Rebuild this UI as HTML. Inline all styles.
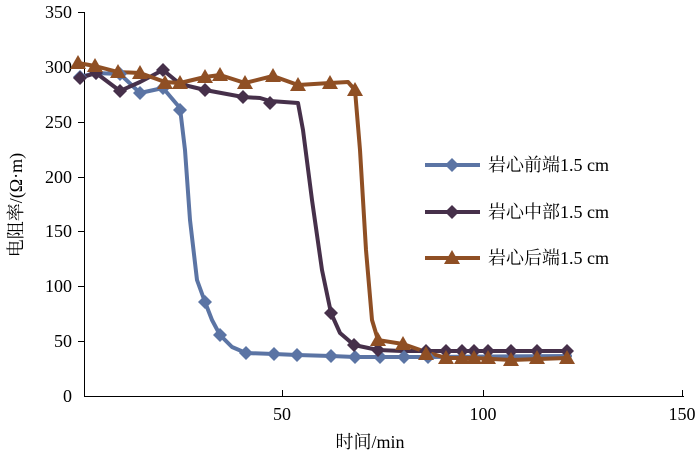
<!DOCTYPE html>
<html><head><meta charset="utf-8"><style>body{margin:0;background:#fff}svg text{font-family:"Liberation Serif","Noto Serif CJK SC",serif;fill:#000}</style></head>
<body>
<svg width="700" height="458" viewBox="0 0 700 458" xmlns="http://www.w3.org/2000/svg">
<defs>
<path id="dm" d="M0,-7 L7,0 L0,7 L-7,0Z"/>
<path id="tr" d="M0,-8 L8,6 L-8,6Z"/>
</defs>
<g stroke="#000" stroke-width="1" fill="none">
<line x1="84.5" y1="12" x2="84.5" y2="396"/>
<line x1="84" y1="396.5" x2="684" y2="396.5"/>
<line x1="78" y1="12.5" x2="84" y2="12.5"/><line x1="78" y1="67.5" x2="84" y2="67.5"/>
<line x1="78" y1="122.5" x2="84" y2="122.5"/><line x1="78" y1="177.5" x2="84" y2="177.5"/>
<line x1="78" y1="231.5" x2="84" y2="231.5"/><line x1="78" y1="286.5" x2="84" y2="286.5"/>
<line x1="78" y1="341.5" x2="84" y2="341.5"/>
<line x1="282.5" y1="390" x2="282.5" y2="396"/><line x1="483.5" y1="390" x2="483.5" y2="396"/><line x1="682.5" y1="390" x2="682.5" y2="396"/>
</g>
<g font-size="18" text-anchor="end">
<text x="72" y="18">350</text><text x="72" y="73">300</text><text x="72" y="128">250</text>
<text x="72" y="183">200</text><text x="72" y="237">150</text><text x="72" y="292">100</text>
<text x="72" y="347">50</text><text x="72" y="402">0</text>
</g>
<g font-size="18" text-anchor="middle">
<text x="282" y="420">50</text><text x="483" y="420">100</text><text x="682" y="420">150</text>
<text x="370" y="448">时间/min</text>
</g>
<text font-size="18" transform="translate(22,205) rotate(-90)" text-anchor="middle">电阻率/(Ω·m)</text>

<g fill="none" stroke-width="4" stroke-linejoin="round" stroke-linecap="round">
<polyline stroke="#5b74a4" points="80,77 96,73 120,74 140,93 163,88 180,108 185,150 190,220 197,280 205,302 212,320 220,335 232,347 246,353 274,354 297,355 331,356 355,357 380,357 404,357 428,357 570,356"/>
<polyline stroke="#46304a" points="80,78 96,73 120,91 140,82 163,70 180,84 205,90 243,97 260,98 270,101 298,103 303,130 312,200 322,270 331,313 340,333 354,345 378,350 402,351 426,351 446,351 474,351 511,351 567,351"/>
<polyline stroke="#8f4f24" points="78,63 95,66 118,72 140,73 165,82 180,83 205,77 220,75 245,83 273,76 298,85 330,83 348,82 355,90 360,150 366,250 372,320 378,340 403,344 426,352 446,358 474,358 511,360 567,358"/>
</g>
<g fill="#5b74a4">
<use href="#dm" x="80" y="77"/><use href="#dm" x="96" y="73"/><use href="#dm" x="120" y="74"/><use href="#dm" x="140" y="93"/><use href="#dm" x="163" y="88"/><use href="#dm" x="180" y="110"/><use href="#dm" x="205" y="302"/><use href="#dm" x="220" y="335"/><use href="#dm" x="246" y="353"/><use href="#dm" x="274" y="354"/><use href="#dm" x="297" y="355"/><use href="#dm" x="331" y="356"/><use href="#dm" x="355" y="357"/><use href="#dm" x="380" y="357"/><use href="#dm" x="404" y="357"/><use href="#dm" x="428" y="357"/>
</g>
<g fill="#46304a">
<use href="#dm" x="80" y="78"/><use href="#dm" x="96" y="73"/><use href="#dm" x="120" y="91"/><use href="#dm" x="163" y="70"/><use href="#dm" x="205" y="90"/><use href="#dm" x="243" y="97"/><use href="#dm" x="270" y="103"/><use href="#dm" x="331" y="313"/><use href="#dm" x="354" y="345"/><use href="#dm" x="378" y="350"/><use href="#dm" x="426" y="351"/><use href="#dm" x="446" y="351"/><use href="#dm" x="462" y="351"/><use href="#dm" x="474" y="351"/><use href="#dm" x="488" y="351"/><use href="#dm" x="511" y="351"/><use href="#dm" x="537" y="351"/><use href="#dm" x="567" y="351"/>
</g>
<g fill="#8f4f24">
<use href="#tr" x="78" y="63"/><use href="#tr" x="95" y="66"/><use href="#tr" x="118" y="72"/><use href="#tr" x="140" y="73"/><use href="#tr" x="165" y="83"/><use href="#tr" x="180" y="83"/><use href="#tr" x="205" y="77"/><use href="#tr" x="220" y="75"/><use href="#tr" x="245" y="83"/><use href="#tr" x="273" y="76"/><use href="#tr" x="298" y="85"/><use href="#tr" x="330" y="83"/><use href="#tr" x="355" y="90"/><use href="#tr" x="378" y="340"/><use href="#tr" x="403" y="344"/><use href="#tr" x="426" y="354"/><use href="#tr" x="446" y="358"/><use href="#tr" x="462" y="358"/><use href="#tr" x="474" y="358"/><use href="#tr" x="488" y="358"/><use href="#tr" x="511" y="360"/><use href="#tr" x="537" y="358"/><use href="#tr" x="567" y="358"/>
</g>
<g stroke-width="4">
<line x1="425" y1="165" x2="480" y2="165" stroke="#5b74a4"/>
<line x1="425" y1="212" x2="480" y2="212" stroke="#46304a"/>
<line x1="425" y1="258" x2="480" y2="258" stroke="#8f4f24"/>
</g>
<use href="#dm" x="452" y="165" fill="#5b74a4"/>
<use href="#dm" x="452" y="212" fill="#46304a"/>
<use href="#tr" x="452" y="258" fill="#8f4f24"/>
<g font-size="18">
<text x="488" y="171">岩心前端1.5 cm</text>
<text x="488" y="218">岩心中部1.5 cm</text>
<text x="488" y="264">岩心后端1.5 cm</text>
</g>
</svg>
</body></html>
